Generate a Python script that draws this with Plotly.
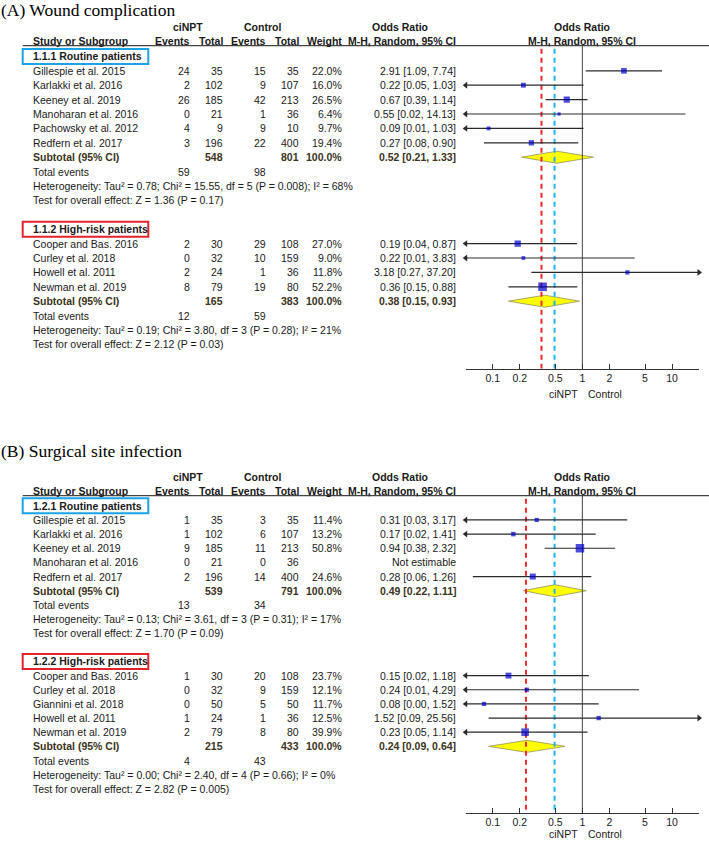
import math
import plotly.graph_objects as go

# ======================= DATA =======================
# ---- Panel A: Wound complication ----
A_title = "(A) Wound complication"
A1_label = "1.1.1 Routine patients"
A1_study = ["Gillespie et al. 2015", "Karlakki et al. 2016", "Keeney et al. 2019",
            "Manoharan et al. 2016", "Pachowsky et al. 2012", "Redfern et al. 2017"]
A1_ev_t = [24, 2, 26, 0, 4, 3]
A1_tot_t = [35, 102, 185, 21, 9, 196]
A1_ev_c = [15, 9, 42, 1, 9, 22]
A1_tot_c = [35, 107, 213, 36, 10, 400]
A1_weight = [22.0, 16.0, 26.5, 6.4, 9.7, 19.4]
A1_or = [2.91, 0.22, 0.67, 0.55, 0.09, 0.27]
A1_lo = [1.09, 0.05, 0.39, 0.02, 0.01, 0.08]
A1_hi = [7.74, 1.03, 1.14, 14.13, 1.03, 0.90]
A1_sub = dict(tot_t=548, tot_c=801, est=0.52, lo=0.21, hi=1.33, ev_t=59, ev_c=98)
A1_het = "Heterogeneity: Tau² = 0.78; Chi² = 15.55, df = 5 (P = 0.008); I² = 68%"
A1_test = "Test for overall effect: Z = 1.36 (P = 0.17)"

A2_label = "1.1.2 High-risk patients"
A2_study = ["Cooper and Bas. 2016", "Curley et al. 2018", "Howell et al. 2011", "Newman et al. 2019"]
A2_ev_t = [2, 0, 2, 8]
A2_tot_t = [30, 32, 24, 79]
A2_ev_c = [29, 10, 1, 19]
A2_tot_c = [108, 159, 36, 80]
A2_weight = [27.0, 9.0, 11.8, 52.2]
A2_or = [0.19, 0.22, 3.18, 0.36]
A2_lo = [0.04, 0.01, 0.27, 0.15]
A2_hi = [0.87, 3.83, 37.20, 0.88]
A2_sub = dict(tot_t=165, tot_c=383, est=0.38, lo=0.15, hi=0.93, ev_t=12, ev_c=59)
A2_het = "Heterogeneity: Tau² = 0.19; Chi² = 3.80, df = 3 (P = 0.28); I² = 21%"
A2_test = "Test for overall effect: Z = 2.12 (P = 0.03)"
A_ref_red = 0.35
A_ref_blue = 0.49

# ---- Panel B: Surgical site infection ----
B_title = "(B) Surgical site infection"
B1_label = "1.2.1 Routine patients"
B1_study = ["Gillespie et al. 2015", "Karlakki et al. 2016", "Keeney et al. 2019",
            "Manoharan et al. 2016", "Redfern et al. 2017"]
B1_ev_t = [1, 1, 9, 0, 2]
B1_tot_t = [35, 102, 185, 21, 196]
B1_ev_c = [3, 6, 11, 0, 14]
B1_tot_c = [35, 107, 213, 36, 400]
B1_weight = [11.4, 13.2, 50.8, None, 24.6]
B1_or = [0.31, 0.17, 0.94, None, 0.28]
B1_lo = [0.03, 0.02, 0.38, None, 0.06]
B1_hi = [3.17, 1.41, 2.32, None, 1.26]
B1_sub = dict(tot_t=539, tot_c=791, est=0.49, lo=0.22, hi=1.11, ev_t=13, ev_c=34)
B1_het = "Heterogeneity: Tau² = 0.13; Chi² = 3.61, df = 3 (P = 0.31); I² = 17%"
B1_test = "Test for overall effect: Z = 1.70 (P = 0.09)"

B2_label = "1.2.2 High-risk patients"
B2_study = ["Cooper and Bas. 2016", "Curley et al. 2018", "Giannini et al. 2018",
            "Howell et al. 2011", "Newman et al. 2019"]
B2_ev_t = [1, 0, 0, 1, 2]
B2_tot_t = [30, 32, 50, 24, 79]
B2_ev_c = [20, 9, 5, 1, 8]
B2_tot_c = [108, 159, 50, 36, 80]
B2_weight = [23.7, 12.1, 11.7, 12.5, 39.9]
B2_or = [0.15, 0.24, 0.08, 1.52, 0.23]
B2_lo = [0.02, 0.01, 0.00, 0.09, 0.05]
B2_hi = [1.18, 4.29, 1.52, 25.56, 1.14]
B2_sub = dict(tot_t=215, tot_c=433, est=0.24, lo=0.09, hi=0.64, ev_t=4, ev_c=43)
B2_het = "Heterogeneity: Tau² = 0.00; Chi² = 2.40, df = 4 (P = 0.66); I² = 0%"
B2_test = "Test for overall effect: Z = 2.82 (P = 0.005)"
B_ref_red = 0.235
B_ref_blue = 0.49

tick_vals = [0.1, 0.2, 0.5, 1, 2, 5, 10]
tick_text = ["0.1", "0.2", "0.5", "1", "2", "5", "10"]
fav_left = "ciNPT"
fav_right = "Control"

# ======================= LAYOUT CONSTANTS =======================
W, H = 709, 841
XMIN, XMAX = 0.05, 20
FONT = "Liberation Sans, Arial, sans-serif"
SERIF = "Liberation Serif, Times New Roman, serif"
TXT = "#1a1a1a"
FS = 10.5
X_NAME = 31.7
X_EVT_T, X_TOT_T, X_EVT_C, X_TOT_C, X_WT, X_OR = 191, 224, 266.7, 300, 343.3, 456.7
FOREST_L, FOREST_R = 465.7, 699
BOX_L, BOX_R = 22.7, 148.3
BLUE_BOX, RED_BOX = "#1BA3E6", "#E3232B"
SQ_COLOR = "#0000CC"
LINE_COLOR = "#2a2a2a"
SUB_COLOR = "#3a3320"


def group(label, study, ev_t, tot_t, ev_c, tot_c, weight, orv, lo, hi, sub, het, test, box):
    return dict(label=label, study=study, ev_t=ev_t, tot_t=tot_t, ev_c=ev_c, tot_c=tot_c,
                weight=weight, orv=orv, lo=lo, hi=hi, sub=sub, het=het, test=test, box=box)


panels = [
    dict(title=A_title, title_y=10, head1_y=26.5, head2_y=40.5, line_y=45.7, row0=56.4, dy=14.4,
         axis_y=368.5, fav_dy=25, red=A_ref_red, blue=A_ref_blue, xaxis="x2",
         groups=[group(A1_label, A1_study, A1_ev_t, A1_tot_t, A1_ev_c, A1_tot_c, A1_weight,
                       A1_or, A1_lo, A1_hi, A1_sub, A1_het, A1_test, BLUE_BOX),
                 group(A2_label, A2_study, A2_ev_t, A2_tot_t, A2_ev_c, A2_tot_c, A2_weight,
                       A2_or, A2_lo, A2_hi, A2_sub, A2_het, A2_test, RED_BOX)]),
    dict(title=B_title, title_y=451, head1_y=477, head2_y=490.5, line_y=495.7, row0=505.8, dy=14.15,
         axis_y=812.7, fav_dy=21.5, red=B_ref_red, blue=B_ref_blue, xaxis="x3",
         groups=[group(B1_label, B1_study, B1_ev_t, B1_tot_t, B1_ev_c, B1_tot_c, B1_weight,
                       B1_or, B1_lo, B1_hi, B1_sub, B1_het, B1_test, BLUE_BOX),
                 group(B2_label, B2_study, B2_ev_t, B2_tot_t, B2_ev_c, B2_tot_c, B2_weight,
                       B2_or, B2_lo, B2_hi, B2_sub, B2_het, B2_test, RED_BOX)]),
]

fig = go.Figure()
annotations = []
shapes = []


def txt(x, y, s, anchor="left", bold=False, size=FS, family=FONT, color=TXT, xref="x"):
    annotations.append(dict(x=x, y=y, xref=xref, yref="y", text=f"<b>{s}</b>" if bold else s,
                            showarrow=False, xanchor=anchor, yanchor="middle", borderpad=0,
                            font=dict(family=family, size=size, color=color)))


for p in panels:
    xa = p["xaxis"]
    # titles and headers
    txt(0, p["title_y"], p["title"], family=SERIF, size=17.5, color="#000")
    txt(188, p["head1_y"], "ciNPT", "center", True)
    txt(262, p["head1_y"], "Control", "center", True)
    txt(400, p["head1_y"], "Odds Ratio", "center", True)
    txt(0, p["head1_y"], "Odds Ratio", "center", True, xref=xa)
    txt(X_NAME, p["head2_y"], "Study or Subgroup", "left", True)
    for xx, s in [(X_EVT_T, "Events"), (X_TOT_T, "Total"), (X_EVT_C, "Events"),
                  (X_TOT_C, "Total"), (X_WT, "Weight"), (X_OR, "M-H, Random, 95% CI")]:
        txt(xx, p["head2_y"], s, "right", True)
    txt(0, p["head2_y"], "M-H, Random, 95% CI", "center", True, xref=xa)
    shapes.append(dict(type="line", xref="x", yref="y", x0=BOX_L, x1=W, y0=p["line_y"], y1=p["line_y"],
                       line=dict(color="#444", width=1.3)))

    ci_x, ci_y = [], []
    sq_x, sq_y, sq_s = [], [], []
    al_x, al_y, ar_x, ar_y = [], [], [], []
    r = 0
    for g in p["groups"]:
        yl = p["row0"] + r * p["dy"]
        txt(X_NAME, yl, g["label"], "left", True)
        shapes.append(dict(type="rect", xref="x", yref="y", x0=BOX_L, x1=BOX_R, y0=yl - 7.5, y1=yl + 7.5,
                           line=dict(color=g["box"], width=2)))
        for i, name in enumerate(g["study"]):
            r += 1
            yy = p["row0"] + r * p["dy"]
            txt(X_NAME, yy, name)
            txt(X_EVT_T, yy, str(g["ev_t"][i]), "right")
            txt(X_TOT_T, yy, str(g["tot_t"][i]), "right")
            txt(X_EVT_C, yy, str(g["ev_c"][i]), "right")
            txt(X_TOT_C, yy, str(g["tot_c"][i]), "right")
            if g["orv"][i] is None:
                txt(X_OR, yy, "Not estimable", "right")
                continue
            txt(X_WT, yy, f"{g['weight'][i]:.1f}%", "right")
            txt(X_OR, yy, f"{g['orv'][i]:.2f} [{g['lo'][i]:.2f}, {g['hi'][i]:.2f}]", "right")
            lo_c = max(g["lo"][i], XMIN)
            hi_c = min(g["hi"][i], XMAX)
            ci_x += [lo_c, hi_c, None]
            ci_y += [yy, yy, None]
            if g["lo"][i] <= XMIN:
                al_x.append(XMIN); al_y.append(yy)
            if g["hi"][i] >= XMAX:
                ar_x.append(XMAX); ar_y.append(yy)
            sq_x.append(g["orv"][i]); sq_y.append(yy)
            sq_s.append(1.15 * math.sqrt(g["weight"][i]) + 0.3)
        # subtotal
        r += 1
        yy = p["row0"] + r * p["dy"]
        s = g["sub"]
        txt(X_NAME, yy, "Subtotal (95% CI)", "left", True, color=SUB_COLOR)
        txt(X_TOT_T, yy, str(s["tot_t"]), "right", True, color=SUB_COLOR)
        txt(X_TOT_C, yy, str(s["tot_c"]), "right", True, color=SUB_COLOR)
        txt(X_WT, yy, "100.0%", "right", True, color=SUB_COLOR)
        txt(X_OR, yy, f"{s['est']:.2f} [{s['lo']:.2f}, {s['hi']:.2f}]", "right", True, color=SUB_COLOR)
        hh = 6.0
        fig.add_trace(go.Scatter(x=[s["lo"], s["est"], s["hi"], s["est"], s["lo"]],
                                 y=[yy, yy - hh, yy, yy + hh, yy], mode="lines", fill="toself",
                                 fillcolor="#FFFF00", line=dict(color="#A8A860", width=1),
                                 xaxis=xa, yaxis="y", hoverinfo="skip", showlegend=False))
        r += 1
        yy = p["row0"] + r * p["dy"]
        txt(X_NAME, yy, "Total events")
        txt(X_EVT_T, yy, str(s["ev_t"]), "right")
        txt(X_EVT_C, yy, str(s["ev_c"]), "right")
        r += 1
        txt(X_NAME, p["row0"] + r * p["dy"], g["het"])
        r += 1
        txt(X_NAME, p["row0"] + r * p["dy"], g["test"])
        r += 2

    # reference lines
    y_top, y_bot = p["line_y"], p["axis_y"]
    fig.add_trace(go.Scatter(x=[1, 1], y=[y_top, y_bot], mode="lines", line=dict(color="#444", width=1),
                             xaxis=xa, yaxis="y", hoverinfo="skip", showlegend=False))
    fig.add_trace(go.Scatter(x=[p["red"], p["red"]], y=[y_top + 3, y_bot], mode="lines",
                             line=dict(color="#F0282D", width=2, dash="5px,4px"),
                             xaxis=xa, yaxis="y", hoverinfo="skip", showlegend=False))
    fig.add_trace(go.Scatter(x=[p["blue"], p["blue"]], y=[y_top + 3, y_bot], mode="lines",
                             line=dict(color="#22B2EE", width=2, dash="5px,4px"),
                             xaxis=xa, yaxis="y", hoverinfo="skip", showlegend=False))
    # CI lines
    fig.add_trace(go.Scatter(x=ci_x, y=ci_y, mode="lines", line=dict(color=LINE_COLOR, width=1.2),
                             xaxis=xa, yaxis="y", hoverinfo="skip", showlegend=False, cliponaxis=False))
    fig.add_trace(go.Scatter(x=al_x, y=al_y, mode="markers",
                             marker=dict(symbol="triangle-left", size=6, color=LINE_COLOR),
                             xaxis=xa, yaxis="y", hoverinfo="skip", showlegend=False, cliponaxis=False))
    fig.add_trace(go.Scatter(x=ar_x, y=ar_y, mode="markers",
                             marker=dict(symbol="triangle-right", size=6, color=LINE_COLOR),
                             xaxis=xa, yaxis="y", hoverinfo="skip", showlegend=False, cliponaxis=False))
    fig.add_trace(go.Scatter(x=sq_x, y=sq_y, mode="markers",
                             marker=dict(symbol="square", size=sq_s, color=SQ_COLOR, line=dict(width=0)),
                             xaxis=xa, yaxis="y", hoverinfo="skip", showlegend=False, cliponaxis=False))
    # favours labels
    txt(579, p["axis_y"] + p["fav_dy"], fav_left, "right")
    txt(587, p["axis_y"] + p["fav_dy"], fav_right, "left")

axis_common = dict(type="log", range=[math.log10(XMIN), math.log10(XMAX)],
                   domain=[FOREST_L / W, FOREST_R / W], anchor="free",
                   tickvals=tick_vals, ticktext=tick_text, ticks="inside", ticklen=5,
                   tickwidth=1, tickcolor="#333", showline=True, linecolor="#333", linewidth=1,
                   showgrid=False, zeroline=False, tickfont=dict(family=FONT, size=FS, color=TXT),
                   fixedrange=True)

fig.update_layout(
    width=W, height=H, margin=dict(l=0, r=0, t=0, b=0),
    paper_bgcolor="white", plot_bgcolor="rgba(0,0,0,0)", showlegend=False,
    xaxis=dict(range=[0, W], domain=[0, 1], visible=False, fixedrange=True),
    yaxis=dict(range=[H, 0], domain=[0, 1], visible=False, fixedrange=True),
    xaxis2=dict(axis_common, position=1 - panels[0]["axis_y"] / H),
    xaxis3=dict(axis_common, position=1 - panels[1]["axis_y"] / H),
    annotations=annotations, shapes=shapes,
)

fig.write_html("out.html", config={"displayModeBar": False},
               post_script="document.body.style.margin='0';")
